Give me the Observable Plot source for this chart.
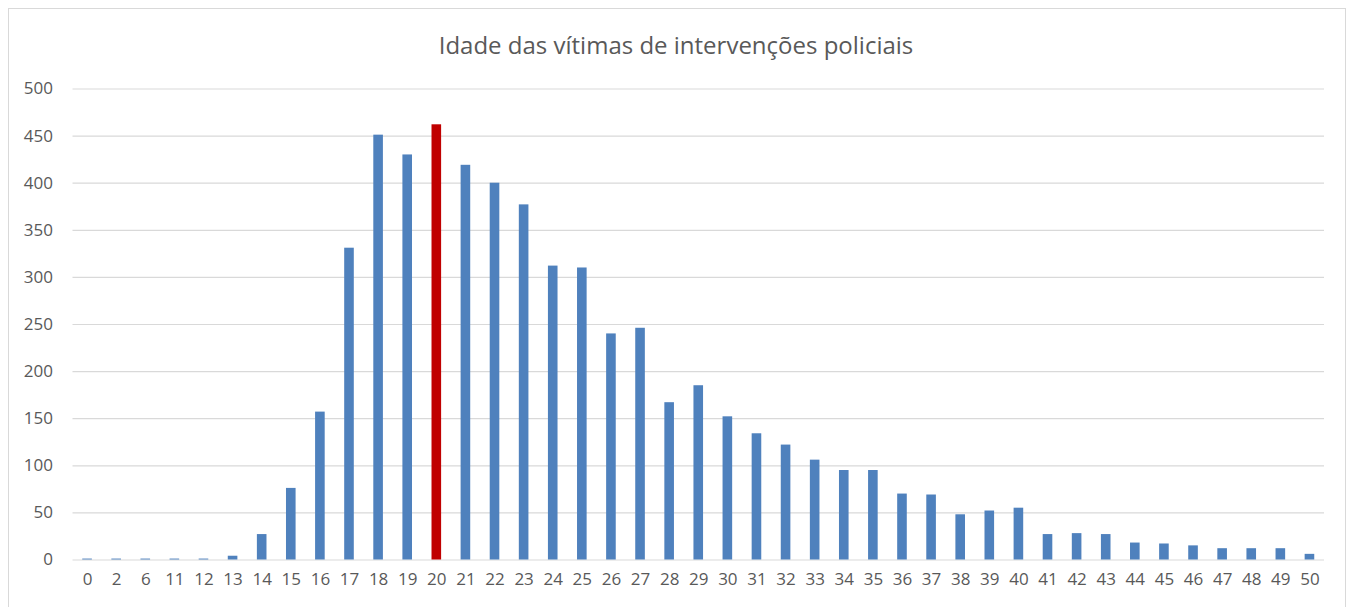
<!DOCTYPE html>
<html>
<head>
<meta charset="utf-8">
<script src="https://cdn.jsdelivr.net/npm/d3@7"></script>
<script src="https://cdn.jsdelivr.net/npm/@observablehq/plot@0.6"></script>
<style>
  html, body { margin: 0; padding: 0; background: #fff; }
  #wrap { position: relative; width: 1348px; height: 607px; overflow: hidden; }
  #frame { position: absolute; left: 8px; top: 8px; width: 1338px; height: 610px; border: 1px solid #d9d9d9; box-sizing: border-box; }
  #title { position: absolute; left: 0; width: 1352px; top: 28px; text-align: center;
           font-family: "Open Sans", sans-serif; font-size: 24px; color: #595959; }
  #chart { position: absolute; left: 0; top: 70px; }
</style>
</head>
<body>
<div id="wrap">
  <div id="frame"></div>
  <div id="title">Idade das vítimas de intervenções policiais</div>
  <div id="chart"></div>
</div>
<script>
const ages = ["0","2","6","11","12","13","14","15","16","17","18","19","20","21","22","23","24","25","26","27","28","29","30","31","32","33","34","35","36","37","38","39","40","41","42","43","44","45","46","47","48","49","50"];
const counts = [1,1,1,1,1,4,27,76,157,331,451,430,462,419,400,377,312,310,240,246,167,185,152,134,122,106,95,95,70,69,48,52,55,27,28,27,18,17,15,12,12,12,6];
const yTicks = [0,50,100,150,200,250,300,350,400,450,500];
const highlightAge = "20";

const data = ages.map((a, i) => ({age: a, count: counts[i]}));

const chart = Plot.plot({
  width: 1348,
  height: 537,
  marginTop: 18.5,
  marginBottom: 47.5,
  marginLeft: 72.5,
  marginRight: 24,
  style: {fontFamily: "'Open Sans', sans-serif", fontSize: "17px", color: "#595959", background: "transparent"},
  x: {domain: ages, paddingInner: 0.67, paddingOuter: 0.335, round: false, label: null},
  y: {domain: [0, 500], label: null},
  marks: [
    Plot.ruleY(yTicks, {stroke: "#d9d9d9", strokeWidth: 1.2}),
    Plot.barY(data, {x: "age", y: "count", fill: d => d.age === highlightAge ? "#c00000" : "#4f81bd"}),
    Plot.axisY(yTicks, {tickSize: 0, tickPadding: 20, label: null, fontSize: 17}),
    Plot.axisX({tickSize: 0, tickPadding: 13, label: null, fontSize: 17})
  ]
});
document.getElementById("chart").appendChild(chart);
</script>
</body>
</html>
